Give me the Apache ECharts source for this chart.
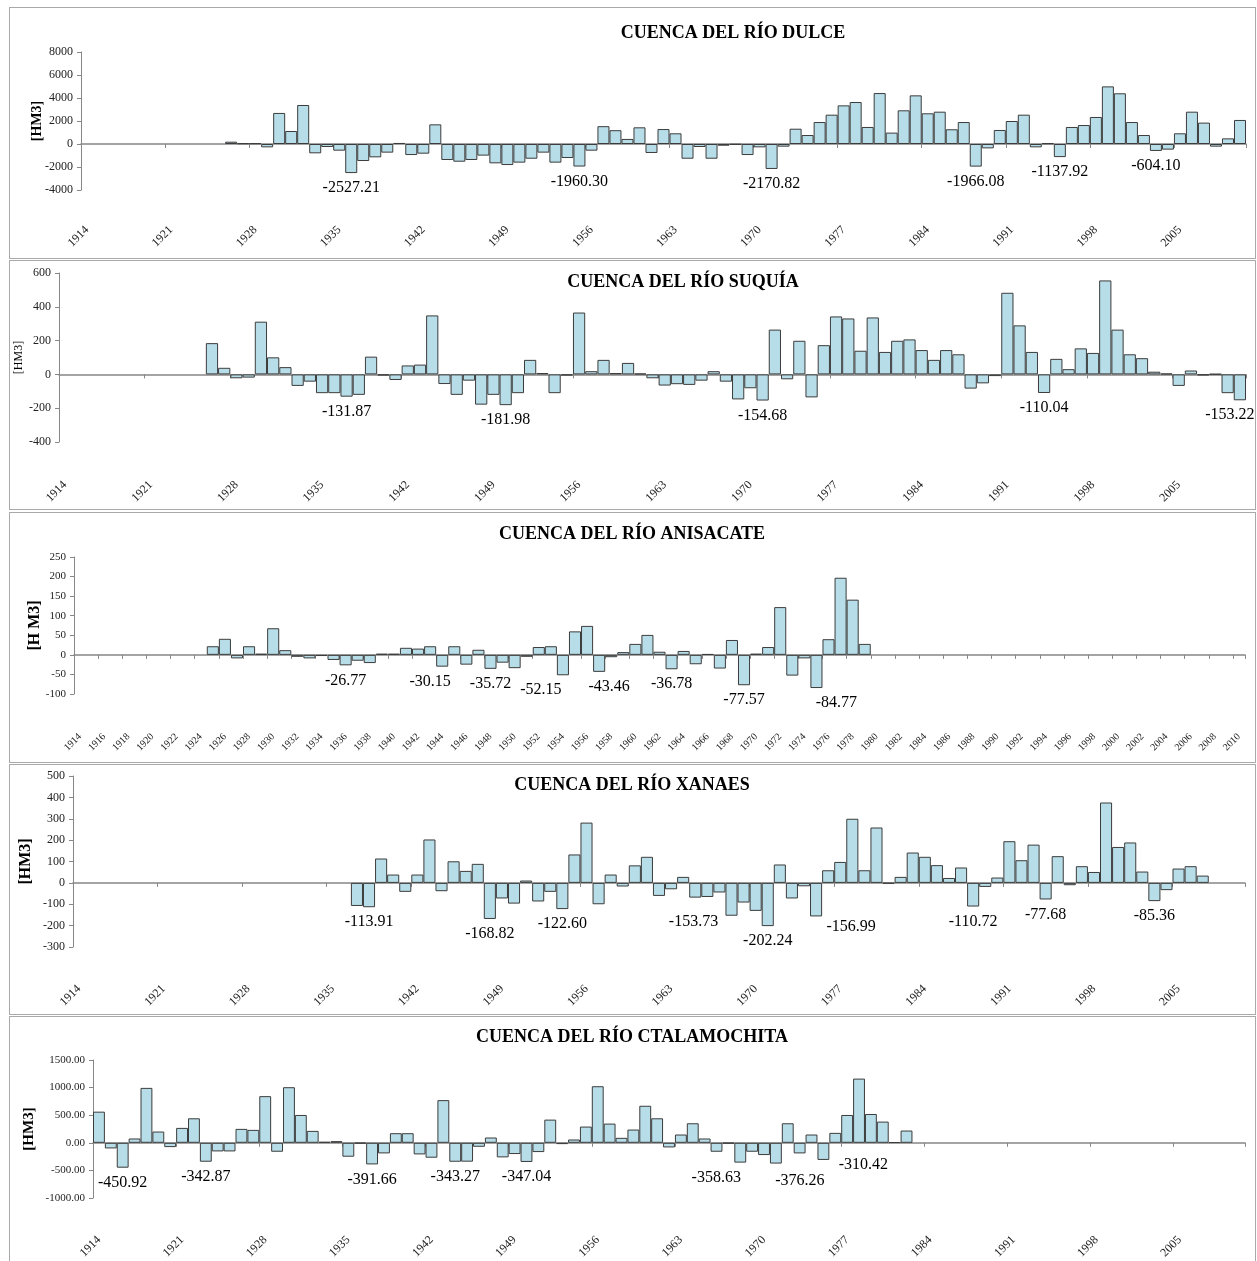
<!DOCTYPE html>
<html lang="es">
<head>
    <meta charset="UTF-8">
    <title>Cuencas - anomalías anuales</title>
    <style>
        body { margin: 0; background: #fff; }
        .panel { position: absolute; left: 9px; width: 1245px; border: 1px solid #a9a9a9; background: #fff; }
    </style>
</head>
<body>

<div id="p1" class="panel" style="top:7px;height:250px;"></div>
<div id="p2" class="panel" style="top:260px;height:248px;"></div>
<div id="p3" class="panel" style="top:512px;height:249px;"></div>
<div id="p4" class="panel" style="top:764px;height:249px;"></div>
<div id="p5" class="panel" style="top:1016px;height:250px;"></div>

<script src="https://cdn.jsdelivr.net/npm/echarts/dist/echarts.min.js"></script>
<script type="text/javascript">

    // categorias: años 1914..2010
    var years = [];
    for (var yr = 1914; yr <= 2010; yr++) {
        years.push(String(yr));
    }

    // CUENCA DEL RIO DULCE (desde 1926)
    var dulceStart = 1926;
    var dulce = [200, 60, 60, -290, 2700, 1130, 3390, -810, -260, -580,
        -2527.21, -1480, -1160, -750, 90, -960, -840, 1710, -1390, -1540,
        -1390, -1010, -1680, -1830, -1620, -1280, -750, -1620, -1220, -1960.30,
        -580, 1550, 1200, 440, 1450, -780, 1300, 930, -1280, -260,
        -1280, -150, -60, -960, -290, -2170.82, -230, 1330, 780, 1910,
        2550, 3360, 3650, 1480, 4430, 990, 2930, 4230, 2670, 2810,
        1280, 1910, -1966.08, -380, 1220, 2000, 2550, -290, 60, -1137.92,
        1480, 1650, 2350, 5010, 4410, 1910, 780, -604.10, -490, 930,
        2810, 1860, -230, 490, 2090];
    var dulceMarked = [1936, 1955, 1971, 1988, 1995, 2003];
    var dulceTicks = [-4000, -2000, 0, 2000, 4000, 6000, 8000];

    // CUENCA DEL RIO SUQUIA (desde 1926)
    var suquiaStart = 1926;
    var suquia = [185, 39, -23, -19, 312, 101, 43, -68, -43, -111,
        -111, -131.87, -121, 105, -6, -33, 53, 58, 349, -57,
        -121, -37, -179, -121, -181.98, -111, 86, 8, -111, -6,
        366, 19, 86, 8, 68, 5, -23, -66, -58, -62,
        -37, 19, -43, -148, -82, -154.68, 265, -29, 199, -136,
        173, 343, 331, 140, 337, 133, 199, 207, 144, 86,
        144, 119, -84, -53, -10, 483, 290, 133, -110.04, 92,
        31, 154, 127, 556, 265, 119, 96, 16, 5, -68,
        23, -5, 2, -111, -153.22];
    var suquiaMarked = [1937, 1950, 1971, 1994, 2010];
    var suquiaTicks = [-400, -200, 0, 200, 400, 600];

    // CUENCA DEL RIO ANISACATE (1925-1979)
    var anisacateStart = 1925;
    var anisacate = [22, 41, -9, 22, 3, 68, 12, -5, -9, -3,
        -13, -26.77, -15, -21, 3, 3, 18, 16, 22, -30.15,
        22, -25, 13, -35.72, -20, -34, -5, 20, 22, -52.15,
        60, 74, -43.46, -6, 7, 28, 51, 8, -36.78, 10,
        -24, 2, -35, 38, -77.57, 3, 20, 122, -53, -9,
        -84.77, 40, 197, 141, 28];
    var anisacateMarked = [1936, 1944, 1948, 1954, 1957, 1963, 1969, 1975];
    var anisacateTicks = [-100, -50, 0, 50, 100, 150, 200, 250];

    // CUENCA DEL RIO XANAES (1937-2007)
    var xanaesStart = 1937;
    var xanaes = [-108, -113.91, 114, 39, -42, 39, 203, -39, 101, 56,
        89, -168.82, -73, -97, 11, -87, -42, -122.60, 133, 282,
        -100, 39, -17, 82, 122, -61, -30, 28, -69, -66,
        -45, -153.73, -92, -131, -202.24, 86, -73, -16, -156.99, 59,
        98, 300, 59, 259, -3, 28, 142, 122, 83, 23,
        72, -110.72, -19, 25, 195, 106, 179, -77.68, 125, -11,
        78, 51, 376, 168, 189, 53, -85.36, -34, 67, 78,
        34];
    var xanaesMarked = [1938, 1948, 1954, 1968, 1971, 1975, 1988, 1994, 2003];
    var xanaesTicks = [-300, -200, -100, 0, 100, 200, 300, 400, 500];

    // CUENCA DEL RIO CTALAMOCHITA (1914-1982)
    var ctalaStart = 1914;
    var ctala = [564, -102, -450.92, 78, 995, 204, -78, 270, 444, -342.87,
        -156, -156, 252, 234, 845, -162, 1007, 504, 216, 18,
        30, -252, -12, -391.66, -192, 174, 174, -210, -270, 773,
        -343.27, -342, -72, 96, -264, -204, -347.04, -168, 420, -24,
        60, 294, 1025, 348, 90, 240, 671, 444, -84, 150,
        354, 78, -162, -12, -358.63, -162, -222, -376.26, 354, -192,
        150, -310.42, 180, 504, 1163, 522, 384, 10, 222];
    var ctalaMarked = [1916, 1923, 1937, 1944, 1950, 1968, 1971, 1975];
    var ctalaTicks = [-1000, -500, 0, 500, 1000, 1500];

    var SERIF = "'Liberation Serif', 'Times New Roman', serif";
    var AXIS_GREY = '#878787';

    function drawPanel(id, o) {
        var chart = echarts.init(document.getElementById(id));
        var ticks = o.ticks;
        var nudge = o.nudge || {};

        var data = years.map(function (y) {
            var k = Number(y) - o.start;
            if (k < 0 || k >= o.values.length) {
                return '-';
            }
            var v = o.values[k];
            if (o.marked.indexOf(Number(y)) < 0) {
                return v;
            }
            return {
                value: v,
                label: {show: true, formatter: v.toFixed(2), offset: nudge[y] || [0, 0]}
            };
        });

        var grid = o.grid;
        grid.containLabel = false;
        grid.outerBoundsMode = 'none';

        var option = {
            animation: false,
            title: {
                text: o.title,
                left: o.titleX,
                top: o.titleTop,
                textAlign: 'center',
                textVerticalAlign: 'top',
                padding: 0,
                textStyle: {fontFamily: SERIF, fontSize: 18, fontWeight: 'bold', color: '#000'}
            },
            grid: grid,
            xAxis: [
                {
                    // solo etiquetas, abajo
                    type: 'category',
                    data: years,
                    position: 'bottom',
                    axisLine: {show: false, onZero: false},
                    axisTick: {show: false},
                    axisLabel: {
                        interval: o.step - 1,
                        rotate: 45,
                        margin: o.labelMargin,
                        fontFamily: SERIF,
                        fontSize: o.xFont,
                        color: '#222'
                    },
                    splitLine: {show: false}
                },
                {
                    // linea del cero
                    type: 'category',
                    data: years,
                    position: 'bottom',
                    axisLine: {show: true, onZero: true, lineStyle: {color: AXIS_GREY, width: 1.5}},
                    axisTick: {show: true, interval: o.step - 1, length: 4, lineStyle: {color: AXIS_GREY}},
                    axisLabel: {show: false},
                    splitLine: {show: false}
                }
            ],
            yAxis: {
                type: 'value',
                min: ticks[0],
                max: ticks[ticks.length - 1],
                interval: ticks[1] - ticks[0],
                name: o.yName,
                nameLocation: 'middle',
                nameRotate: 90,
                nameGap: o.nameGap,
                nameMoveOverlap: false,
                nameTextStyle: {fontFamily: SERIF, fontSize: o.nameSize, fontWeight: o.nameWeight, color: '#000'},
                axisLine: {show: true, lineStyle: {color: AXIS_GREY}},
                axisTick: {show: true, length: 4, lineStyle: {color: AXIS_GREY}},
                axisLabel: {
                    fontFamily: SERIF,
                    fontSize: o.yFont,
                    color: '#222',
                    margin: 8,
                    formatter: function (v) {
                        return o.decimals ? v.toFixed(2) : String(v);
                    }
                },
                splitLine: {show: false}
            },
            series: [{
                type: 'bar',
                xAxisIndex: 0,
                data: data,
                barCategoryGap: '0%',
                itemStyle: {color: '#b7dde8', borderColor: '#3c3c3c', borderWidth: 1},
                label: {
                    show: false,
                    position: 'bottom',
                    distance: 7,
                    fontFamily: SERIF,
                    fontSize: 16,
                    color: '#000'
                },
                emphasis: {disabled: true}
            }]
        };

        chart.setOption(option);
    }

    drawPanel('p1', {
        title: 'CUENCA DEL RÍO DULCE', titleX: 723, titleTop: 16,
        start: dulceStart, values: dulce, marked: dulceMarked, ticks: dulceTicks,
        grid: {left: 71, right: 9, top: 44, height: 138},
        step: 7, labelMargin: 38, xFont: 12, yFont: 12,
        yName: '[HM3]', nameGap: 37, nameSize: 14, nameWeight: 'bold'
    });

    drawPanel('p2', {
        title: 'CUENCA DEL RÍO SUQUÍA', titleX: 673, titleTop: 12,
        start: suquiaStart, values: suquia, marked: suquiaMarked, ticks: suquiaTicks,
        grid: {left: 49, right: 9, top: 12, height: 169},
        step: 7, labelMargin: 41, xFont: 12, yFont: 12,
        yName: '[HM3]', nameGap: 34, nameSize: 12, nameWeight: 'normal',
        nudge: {'2010': [-10, 0]}
    });

    drawPanel('p3', {
        title: 'CUENCA DEL RÍO ANISACATE', titleX: 622, titleTop: 12,
        start: anisacateStart, values: anisacate, marked: anisacateMarked, ticks: anisacateTicks,
        grid: {left: 64, right: 10, top: 44, height: 137},
        step: 2, labelMargin: 41, xFont: 10, yFont: 11,
        yName: '[H M3]', nameGap: 31, nameSize: 16, nameWeight: 'bold',
        nudge: {'1944': [-12, 0], '1954': [-22, 0], '1957': [10, 0], '1975': [20, 0]}
    });

    drawPanel('p4', {
        title: 'CUENCA DEL RÍO XANAES', titleX: 622, titleTop: 11,
        start: xanaesStart, values: xanaes, marked: xanaesMarked, ticks: xanaesTicks,
        grid: {left: 63, right: 10, top: 11, height: 171},
        step: 7, labelMargin: 40, xFont: 12, yFont: 12,
        yName: '[HM3]', nameGap: 39, nameSize: 16, nameWeight: 'bold',
        nudge: {'1968': [-38, -9], '1975': [35, -5]}
    });

    drawPanel('p5', {
        title: 'CUENCA DEL RÍO CTALAMOCHITA', titleX: 622, titleTop: 11,
        start: ctalaStart, values: ctala, marked: ctalaMarked, ticks: ctalaTicks,
        grid: {left: 83, right: 10, top: 43, height: 138},
        step: 7, labelMargin: 40, xFont: 12, yFont: 11, decimals: true,
        yName: '[HM3]', nameGap: 56, nameSize: 15, nameWeight: 'bold',
        nudge: {'1968': [-24, 0], '1971': [24, 2], '1975': [40, -10]}
    });

</script>
</body>
</html>
